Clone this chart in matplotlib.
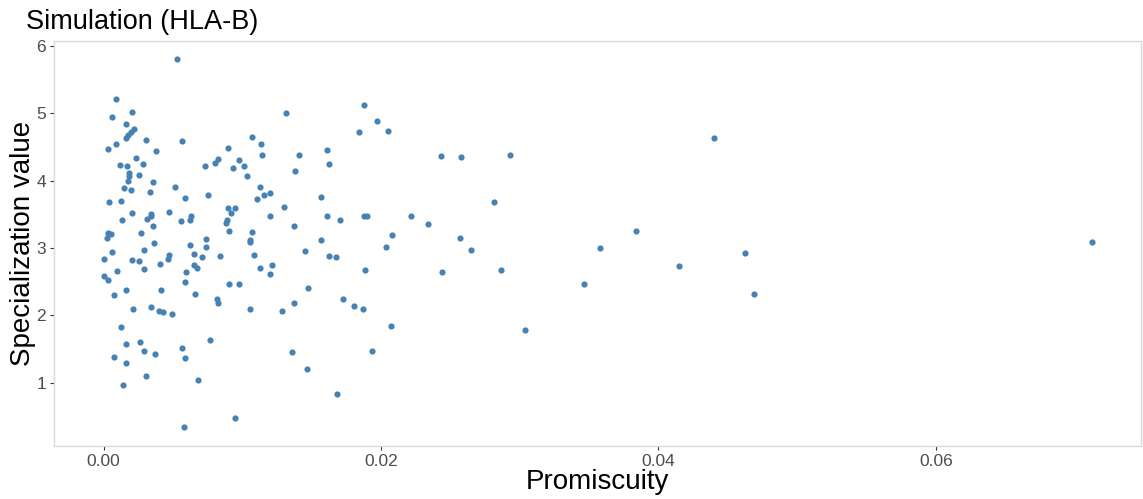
import matplotlib
matplotlib.use("Agg")
import matplotlib.pyplot as plt

plt.rcParams['font.family'] = ['Liberation Sans', 'DejaVu Sans']

# promiscuity (x) and specialization value (y) per allele
promiscuity = [
    0.00528, 0.00086, 0.00206, 0.00062, 0.00163, 0.00217, 0.00199, 0.00174, 0.00163, 0.00306,
    0.00561, 0.00086, 0.00034, 0.00378, 0.01066, 0.01135, 0.01140, 0.00898, 0.01317, 0.00234,
    0.00115, 0.00167, 0.00280, 0.00181, 0.00184, 0.00253, 0.00729, 0.00803, 0.00822, 0.00930,
    0.00973, 0.01013, 0.01030, 0.00177, 0.00358, 0.00146, 0.00196, 0.00332, 0.00514, 0.00583,
    0.00753, 0.01128, 0.01159, 0.01199, 0.01102, 0.01300, 0.00038, 0.00127, 0.00206, 0.00344,
    0.00339, 0.00310, 0.00468, 0.00633, 0.00619, 0.00554, 0.00131, 0.00898, 0.00946, 0.00920,
    0.00887, 0.00880, 0.01202, 0.00353, 0.00272, 0.00031, 0.00050, 0.00027, 0.00905, 0.01070,
    0.00740, 0.01054, 0.00361, 0.00622, 0.00738, 0.01054, 0.00057, 0.00289, 0.00471, 0.00464,
    0.00654, 0.00708, 0.00837, 0.01082, 0.00000, 0.00201, 0.00251, 0.00409, 0.00654, 0.00676,
    0.00287, 0.01214, 0.01128, 0.01199, 0.00095, 0.00000, 0.00031, 0.00597, 0.00586, 0.00901,
    0.00975, 0.00163, 0.00416, 0.00072, 0.00660, 0.00819, 0.00827, 0.00210, 0.00339, 0.00396,
    0.00430, 0.00492, 0.01054, 0.01288, 0.00124, 0.00160, 0.00263, 0.00289, 0.00368, 0.00566,
    0.00588, 0.00769, 0.00074, 0.00163, 0.00306, 0.00141, 0.00681, 0.00948, 0.00581,
    0.01880, 0.01973, 0.01844, 0.02052, 0.01410, 0.01608, 0.01622, 0.01381, 0.02430, 0.02576,
    0.02930, 0.01568, 0.01611, 0.01704, 0.01880, 0.01900, 0.02215, 0.02335, 0.02815, 0.01371,
    0.01568, 0.02081, 0.02038, 0.02566, 0.02647, 0.01455, 0.01625, 0.01672, 0.01887, 0.02442,
    0.02862, 0.01475, 0.01371, 0.01725, 0.01804, 0.01871, 0.02070, 0.03037, 0.01357, 0.01938,
    0.01467, 0.01685,
    0.04400, 0.03835, 0.03577, 0.03462, 0.04146, 0.04621, 0.04688, 0.07125,
]
specialization = [
    5.80, 5.21, 5.02, 4.95, 4.84, 4.76, 4.72, 4.68, 4.63, 4.60,
    4.59, 4.54, 4.47, 4.44, 4.65, 4.54, 4.38, 4.48, 5.01, 4.33,
    4.23, 4.21, 4.25, 4.12, 4.07, 4.08, 4.22, 4.26, 4.32, 4.19,
    4.30, 4.21, 4.07, 3.99, 3.98, 3.89, 3.86, 3.83, 3.91, 3.74,
    3.78, 3.91, 3.79, 3.81, 3.72, 3.61, 3.68, 3.70, 3.52, 3.50,
    3.47, 3.43, 3.53, 3.47, 3.42, 3.40, 3.42, 3.59, 3.59, 3.52,
    3.41, 3.37, 3.48, 3.33, 3.22, 3.22, 3.21, 3.15, 3.25, 3.24,
    3.14, 3.12, 3.07, 3.05, 3.02, 3.09, 2.94, 2.97, 2.89, 2.83,
    2.91, 2.86, 2.88, 2.89, 2.83, 2.82, 2.80, 2.76, 2.74, 2.70,
    2.69, 2.75, 2.71, 2.62, 2.66, 2.59, 2.52, 2.64, 2.50, 2.47,
    2.46, 2.38, 2.37, 2.30, 2.31, 2.25, 2.19, 2.10, 2.13, 2.07,
    2.05, 2.02, 2.09, 2.06, 1.82, 1.57, 1.61, 1.47, 1.43, 1.51,
    1.37, 1.64, 1.38, 1.29, 1.10, 0.97, 1.04, 0.48, 0.34,
    5.12, 4.89, 4.72, 4.73, 4.38, 4.45, 4.25, 4.14, 4.36, 4.35,
    4.38, 3.76, 3.48, 3.41, 3.47, 3.47, 3.47, 3.36, 3.68, 3.32,
    3.12, 3.19, 3.01, 3.15, 2.97, 2.95, 2.88, 2.87, 2.67, 2.65,
    2.68, 2.40, 2.18, 2.25, 2.14, 2.10, 1.84, 1.78, 1.45, 1.47,
    1.20, 0.83,
    4.63, 3.25, 3.00, 2.47, 2.73, 2.92, 2.31, 3.09,
]

x_ticks = [0.00, 0.02, 0.04, 0.06]
x_tick_labels = ['0.00', '0.02', '0.04', '0.06']
y_ticks = [1, 2, 3, 4, 5, 6]

fig = plt.figure(figsize=(11.43, 4.99), dpi=100)
ax = fig.add_axes([0.0475, 0.107, 0.951, 0.811])

ax.scatter(promiscuity, specialization, s=20, color='#4682B4', linewidths=0)

# ggplot-like default expansion (5% each side)
xmin, xmax = min(promiscuity), max(promiscuity)
ymin, ymax = min(specialization), max(specialization)
xpad = (xmax - xmin) * 0.05
ypad = (ymax - ymin) * 0.05
ax.set_xlim(xmin - xpad, xmax + xpad)
ax.set_ylim(ymin - ypad, ymax + ypad)

ax.set_xticks(x_ticks)
ax.set_xticklabels(x_tick_labels)
ax.set_yticks(y_ticks)

for side in ['top', 'bottom', 'left', 'right']:
    ax.spines[side].set_color('#d9d9d9')
    ax.spines[side].set_linewidth(1.0)
ax.tick_params(axis='both', length=3, width=0.8, color='#333333',
               labelcolor='#4d4d4d', labelsize=12.5, pad=3)

ax.set_xlabel('Promiscuity', fontsize=20, color='black', labelpad=0)
ax.set_ylabel('Specialization value', fontsize=20, color='black', labelpad=0)
fig.text(0.023, 0.956, 'Simulation (HLA-B)', fontsize=19.5, ha='left', va='center')

fig.savefig('out.png', dpi=100)
